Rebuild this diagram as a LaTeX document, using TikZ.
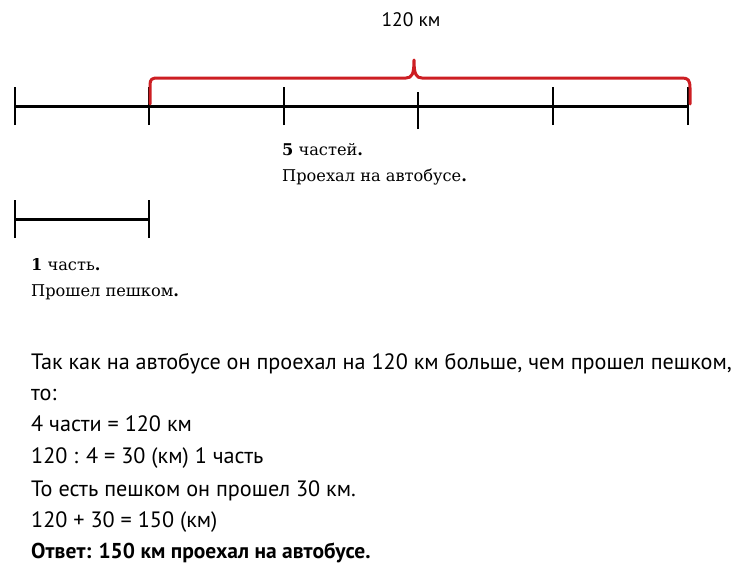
\documentclass[tikz,border=0pt]{standalone}
\usepackage{fontspec}
\setmainfont{DejaVu Serif}
\newfontfamily\condsans{PT Sans}
\begin{document}
\begin{tikzpicture}[x=1pt,y=-1pt,
  axis/.style={line width=3pt,black},
  tick/.style={line width=2pt,black},
  bracered/.style={line width=3pt,color={rgb,255:red,205;green,30;blue,35},line cap=round,line join=round},
  serif/.style={anchor=base west,inner sep=0pt,font=\fontsize{16.2}{19}\selectfont},
  sol/.style={anchor=base west,inner sep=0pt,font=\condsans\fontsize{22.2}{25}\selectfont}]
\useasboundingbox (0,0) rectangle (749,570);
% main line
\coordinate (A0) at (15,106);
\coordinate (A1) at (149,106);
\coordinate (A2) at (284,106);
\coordinate (A3) at (418,106);
\coordinate (A4) at (553,106);
\coordinate (A5) at (688,106);
\draw[axis] (A0) -- (A5);
\foreach \i in {0,1,2,4,5} {\draw[tick] ([yshift=-19pt]A\i) -- ([yshift=19pt]A\i);}
\draw[tick] ([yshift=-23pt]A3) -- ([yshift=14pt]A3);
% red brace
\coordinate (B0) at (150,104);
\coordinate (Bt) at (414,60);
\coordinate (B1) at (690,104);
\draw[bracered] (B0) -- (150,85) .. controls (150,79) and (152,78) .. (158,78)
  -- (406,78) .. controls (412,78) and (414,74) .. (Bt)
  .. controls (414,74) and (416,78) .. (422,78)
  -- (682,78) .. controls (688,78) and (690,80) .. (690,88) -- (B1);
\node[anchor=base,inner sep=0pt,font=\condsans\fontsize{19.5}{25}\selectfont] (km) at (411,27) {120 км};
% labels
\node[serif] (five) at (282,155) {\textbf{5} частей\textbf{.}};
\node[serif] (bus) at (282,181) {Проехал на автобусе\textbf{.}};
% small segment
\coordinate (C0) at (15,219);
\coordinate (C1) at (149,219);
\draw[axis] (C0) -- (C1);
\draw[tick] ([yshift=-19pt]C0) -- ([yshift=19pt]C0);
\draw[tick] ([yshift=-19pt]C1) -- ([yshift=19pt]C1);
\node[serif] (one) at (31,270) {\textbf{1} часть\textbf{.}};
\node[serif] (walk) at (31,296) {Прошел пешком\textbf{.}};
% solution
\node[sol] (l1) at (31,369) {Так как на автобусе он проехал на 120 км больше, чем прошел пешком,};
\node[sol] (l2) at (31,400) {то:};
\node[sol] (l3) at (31,431) {4 части = 120 км};
\node[sol] (l4) at (31,463) {120 : 4 = 30 (км) 1 часть};
\node[sol] (l5) at (31,496) {То есть пешком он прошел 30 км.};
\node[sol] (l6) at (31,527) {120 + 30 = 150 (км)};
\node[sol,font=\condsans\bfseries\fontsize{21.5}{25}\selectfont] (l7) at (31,558) {Ответ: 150 км проехал на автобусе.};
\end{tikzpicture}
\end{document}
